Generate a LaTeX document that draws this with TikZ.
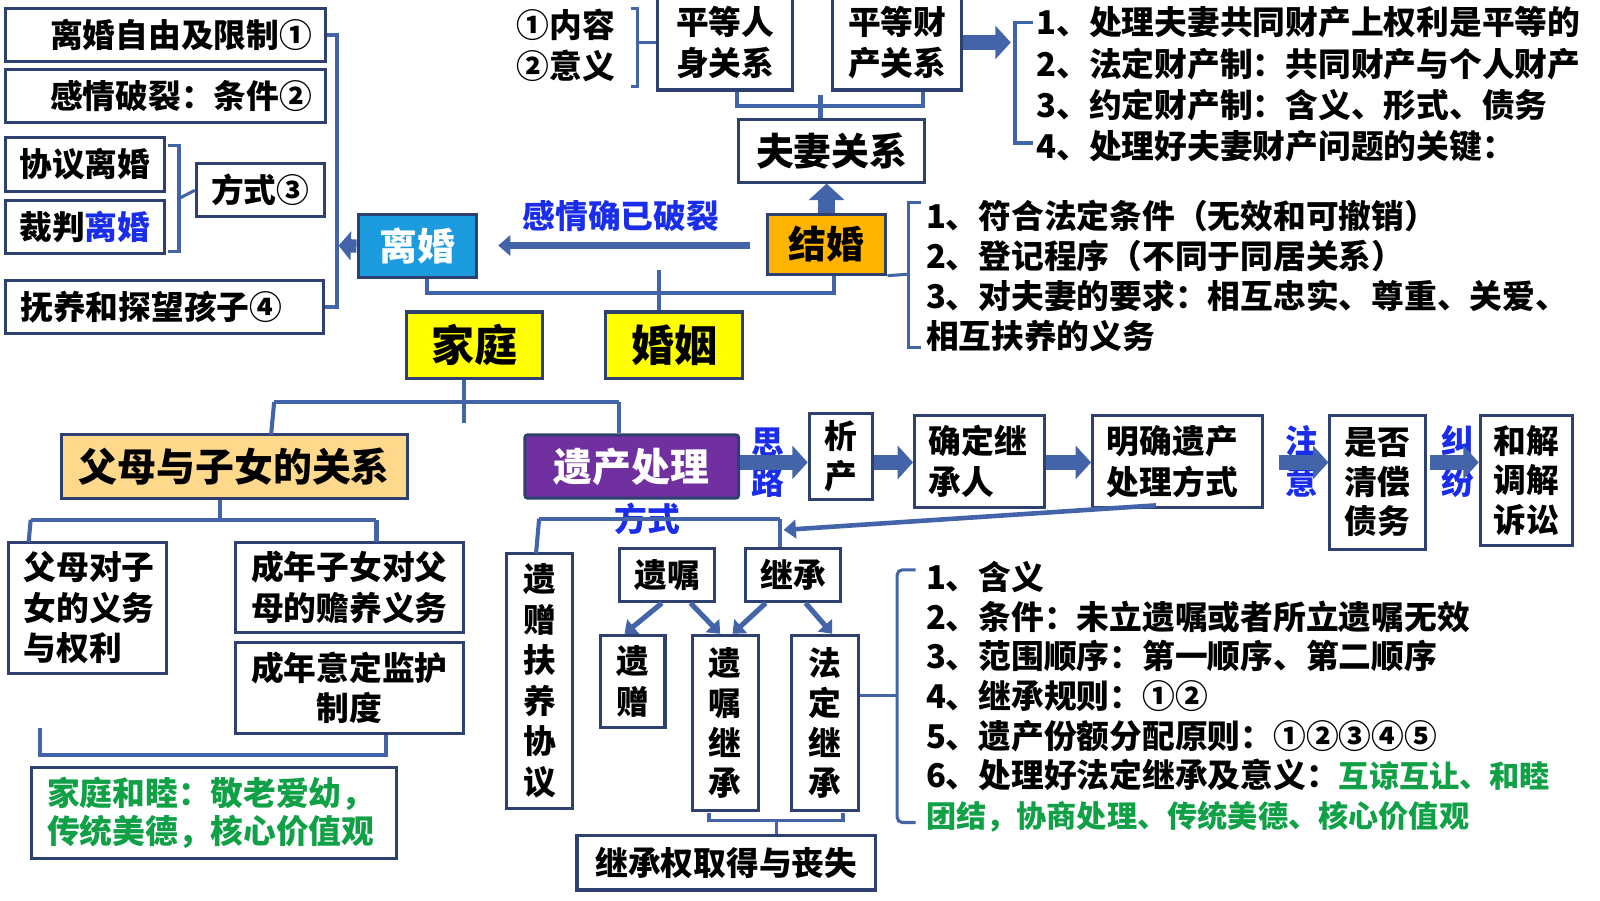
\documentclass[tikz,border=0pt]{standalone}
\usepackage{fontspec}
\setmainfont{Noto Sans CJK SC}
\usetikzlibrary{arrows.meta}
\definecolor{bc}{RGB}{46,64,112}
\definecolor{lc}{RGB}{68,100,170}
\definecolor{tblue}{RGB}{25,45,235}
\definecolor{tgreen}{RGB}{16,160,70}
\definecolor{lihunc}{RGB}{28,156,222}
\definecolor{jiehunc}{RGB}{255,180,0}
\definecolor{yel}{RGB}{255,255,0}
\definecolor{peach}{RGB}{255,217,139}
\definecolor{purp}{RGB}{112,48,160}
\newcommand\fz[2]{\fontsize{#1}{#2}\selectfont\bfseries}
\newcommand\grn[1]{{\fontsize{29.5}{38.7}\selectfont\textcolor{tgreen}{#1}}}
\begin{document}
\begin{tikzpicture}[x=1pt,y=-1pt,
 box/.style={draw=bc, line width=3pt, fill=white, inner sep=0pt, align=center, font=\fz{32}{39.5}},
 conn/.style={draw=lc, line width=4pt},
 barr/.style={draw=lc, line width=15pt, -{Triangle[length=15pt,width=32pt]}},
 marr/.style={draw=lc, line width=5pt, -{Triangle[length=11pt,width=18pt]}},
 plain/.style={inner sep=0pt, align=left, font=\fz{32}{39.5}},
]
\useasboundingbox (0,0) rectangle (1564,880);
\fill[white] (0,0) rectangle (1564,880);

% ---------- divorce side ----------
\node[box, minimum width=313pt, minimum height=52pt, text width=287pt, align=right] (b1) at (161.5,34) {离婚自由及限制①};
\node[box, minimum width=313pt, minimum height=52pt, text width=287pt, align=right] (b2) at (161.5,94) {感情破裂：条件②};
\node[box, minimum width=156pt, minimum height=53pt] (b3) at (83,160.5) {协议离婚};
\node[box, minimum width=156pt, minimum height=52pt] (b4) at (83,222) {裁判\textcolor{tblue}{离婚}};
\node[box, minimum width=125pt, minimum height=52pt] (b5) at (254.5,186) {方式③};
\node[box, minimum width=311pt, minimum height=52pt, text width=281pt, align=left] (b6) at (160.5,300) {抚养和探望孩子④};
\node[box, fill=lihunc, text=white, font=\fz{37}{40}, minimum width=116pt, minimum height=61pt] (lihun) at (408,240.5) {离婚};

\coordinate (bt) at (329,34);
\draw[conn] (b1.east) -- (bt) -- (329,300) -- (b6.east);
\coordinate (lhtip) at (331,240);
\draw[draw=lc, line width=13pt, -{Triangle[length=12pt,width=28pt]}] (lihun.west) -- (lhtip);
\coordinate (fs) at (175,194);
\draw[conn, line width=3pt] (164,142) -- (175,142) -- (175,246) -- (164,246);
\draw[conn, line width=3pt] (fs) -- (b5.west);

% ---------- marriage side ----------
\node[box, fill=jiehunc, font=\fz{37}{40}, minimum width=116pt, minimum height=58pt] (jiehun) at (808,239) {结婚};
\node[box, font=\fz{37}{40}, minimum width=182pt, minimum height=61pt] (fuqi) at (813,147.5) {夫妻关系};
\node[box, minimum width=132pt, minimum height=93pt] (renshen) at (709,41.5) {平等人\\身关系};
\node[box, minimum width=126pt, minimum height=93pt] (caichan) at (877,41.5) {平等财\\产关系};
\node[plain, anchor=west] (neirong) at (505,44.5) {①内容\\②意义};
\draw[conn, line width=3pt] (617,8) -- (623,8) -- (623,85) -- (617,85);
\draw[conn, line width=3pt] (623,41.5) -- (renshen.west);

\draw[conn] ([xshift=11pt]renshen.south) -- (720,104) -- (902,104) -- ([xshift=25pt]caichan.south);
\draw[conn] (802,93) -- ([xshift=-11pt]fuqi.north);
\draw[draw=lc, line width=17pt, -{Triangle[length=16pt,width=34pt]}] (jiehun.north) -- (jiehun.north |- fuqi.south);
\coordinate (cctip) at (988,41.5);
\draw[barr] (caichan.east) -- (cctip);
\draw[conn, line width=3.5pt] (1010,22) -- (992,22) -- (992,140) -- (1010,140);
\node[plain, anchor=west, font=\fz{32}{40.3}] (fclist) at (1013,82.5) {1、处理夫妻共同财产上权利是平等的\\2、法定财产制：共同财产与个人财产\\3、约定财产制：含义、形式、债务\\4、处理好夫妻财产问题的关键：};

\node[plain, text=tblue] (ganqing) at (607,211) {感情确已破裂};
\coordinate (gqs) at (733,240);
\coordinate (gqe) at (487,240);
\draw[draw=lc, line width=7pt, -{Triangle[length=12pt,width=20pt]}] (gqs) -- (gqe);

\draw[conn, line width=3pt] (jiehun.south east) -- (888,268);
\draw[conn, line width=3pt] (900,198) -- (888,198) -- (888,340) -- (900,340);
\node[plain, anchor=west, font=\fz{32}{39}] (jhlist) at (905,269.5) {1、符合法定条件（无效和可撤销）\\2、登记程序（不同于同居关系）\\3、对夫妻的要求：相互忠实、尊重、关爱、\\相互扶养的义务};

% ---------- centre ----------
\node[box, fill=yel, font=\fz{42}{44}, minimum width=133pt, minimum height=65pt] (jiating) at (463.5,337.5) {家庭};
\node[box, fill=yel, font=\fz{42}{44}, minimum width=134pt, minimum height=65pt] (hunyin) at (659,337.5) {婚姻};
\draw[conn] ([xshift=9pt]lihun.south) -- (417,286) -- (815,286) -- ([xshift=7pt]jiehun.south);
\draw[conn] (644,264) -- ([xshift=-15pt]hunyin.north);

\node[box, fill=peach, font=\fz{38}{40}, minimum width=338pt, minimum height=62pt] (fumu) at (229,456) {父母与子女的关系};
\node[box, fill=purp, text=white, rounded corners=3pt, font=\fz{38}{40}, minimum width=209pt, minimum height=62pt] (yichan) at (617.5,456) {遗产处理};
\draw[conn] ([xshift=-10pt]jiating.south) -- (453.5,413);
\draw[conn] (268,393) -- (605,393);
\draw[conn] (268,393) -- (265,425);
\draw[conn] (605,393) -- (yichan.north -| 605,0);

% ---------- parents & children ----------
\node[box, minimum width=155pt, minimum height=128pt, text width=125pt, align=left] (fmdz) at (85.5,594) {父母对子\\女的义务\\与权利};
\node[box, minimum width=223pt, minimum height=88pt] (cnzn) at (341.5,574) {成年子女对父\\母的赡养义务};
\node[box, minimum width=223pt, minimum height=89pt] (jianhu) at (341.5,672.5) {成年意定监护\\制度};
\node[box, minimum width=357pt, minimum height=89pt, text width=327pt, align=left, text=tgreen, font=\fz{32}{38}] (hemu) at (209.5,794.5) {家庭和睦：敬老爱幼，\\传统美德，核心价值观};
\draw[conn] ([xshift=-14pt]fumu.south) -- (215,508);
\draw[conn] (30,508) -- (368,508);
\draw[conn] (30,508) -- (28,530);
\draw[conn] (368,508) -- (368,530);
\draw[conn] (39,712) -- (39,738) -- (377,738) -- ([xshift=35.5pt]jianhu.south);

% ---------- inheritance flow ----------
\node[box, minimum width=62pt, minimum height=84pt] (xichan) at (822,446) {析\\产};
\node[box, minimum width=127pt, minimum height=90pt, text width=99pt, align=left] (qdjc) at (957.5,451) {确定继\\承人};
\node[box, minimum width=166pt, minimum height=90pt, text width=138pt, align=left] (mqyc) at (1151,451) {明确遗产\\处理方式};
\node[box, minimum width=93pt, minimum height=131pt, font=\fz{32}{38.5}] (qcz) at (1346.5,471.5) {是否\\清偿\\债务};
\node[box, minimum width=90pt, minimum height=127pt, font=\fz{32}{38.5}] (hj) at (1492,469.5) {和解\\调解\\诉讼};
\node[plain, align=center, text=tblue] (silu) at (751,452) {思\\路};
\node[plain, align=center, text=tblue] (zhuyi) at (1273,451) {注\\意};
\node[plain, align=center, text=tblue] (jiufen) at (1425,451) {纠\\纷};

\draw[barr] ([yshift=4pt]yichan.east) -- ([yshift=4pt]yichan.east -| xichan.west);
\draw[barr] (xichan.east |- 0,452) -- (qdjc.west |- 0,452);
\draw[barr] (qdjc.east |- 0,452) -- (mqyc.west |- 0,452);
\coordinate (zys) at (1250,452);
\draw[barr] (zys) -- (qcz.west |- 0,452);
\coordinate (jfs) at (1398,452);
\draw[barr] (jfs) -- (hj.west |- 0,452);

% ---------- ways of inheritance ----------
\node[box, minimum width=65pt, minimum height=249pt, font=\fz{32}{39.6}] (yzfy) at (527.5,665.5) {遗\\赠\\扶\\养\\协\\议};
\node[box, minimum width=92pt, minimum height=52pt] (yizhu) at (652,562) {遗嘱};
\node[box, minimum width=93pt, minimum height=52pt] (jicheng) at (775.5,562) {继承};
\node[box, minimum width=63pt, minimum height=90pt, font=\fz{32}{40}] (yizeng) at (618.5,666) {遗\\赠};
\node[box, minimum width=64pt, minimum height=171pt, font=\fz{32}{39}] (yzjc) at (709,706.5) {遗\\嘱\\继\\承};
\node[box, minimum width=65pt, minimum height=171pt, font=\fz{32}{39}] (fdjc) at (806.5,706.5) {法\\定\\继\\承};
\node[box, minimum width=292pt, minimum height=53pt] (jcq) at (710,843.5) {继承权取得与丧失};
\node[plain, text=tblue] (fangshi) at (633,507) {方式};

\draw[conn] (527,507) -- (762,507);
\draw[conn] (527,507) -- (524,541);
\draw[conn] (762,507) -- ([xshift=-13.5pt]jicheng.north);
\coordinate (lst) at (1130,494);
\draw[draw=lc, line width=4.5pt, -{Triangle[length=12pt,width=18pt]}] (lst) -- (766,518);

\draw[marr] ([xshift=-5pt]yizhu.south) -- ([xshift=-8pt]yizeng.north);
\draw[marr] ([xshift=23pt]yizhu.south) -- ([xshift=-5pt]yzjc.north);
\draw[marr] ([xshift=-27pt]jicheng.south) -- ([xshift=7pt]yzjc.north);
\draw[marr] ([xshift=12pt]jicheng.south) -- ([xshift=7pt]fdjc.north);

\draw[conn, line width=3.5pt] (693,795) -- (693,802) -- (824,802) -- (824,795);
\draw[conn, line width=3.5pt] (759,802) -- ([xshift=49pt]jcq.north);

\draw[conn, line width=3pt] (fdjc.east |- 0,680) -- (877,680);
\draw[conn, line width=3pt, rounded corners=5pt] (895,557) -- (877,557) -- (877,804) -- (895,804);
\node[plain, anchor=west, font=\fz{32}{38.7}] (fdlist) at (905,681) {1、含义\\2、条件：未立遗嘱或者所立遗嘱无效\\3、范围顺序：第一顺序、第二顺序\\4、继承规则：①②\\5、遗产份额分配原则：①②③④⑤\\6、处理好法定继承及意义：\grn{互谅互让、和睦}\\\grn{团结，协商处理、传统美德、核心价值观}};
\end{tikzpicture}
\end{document}
